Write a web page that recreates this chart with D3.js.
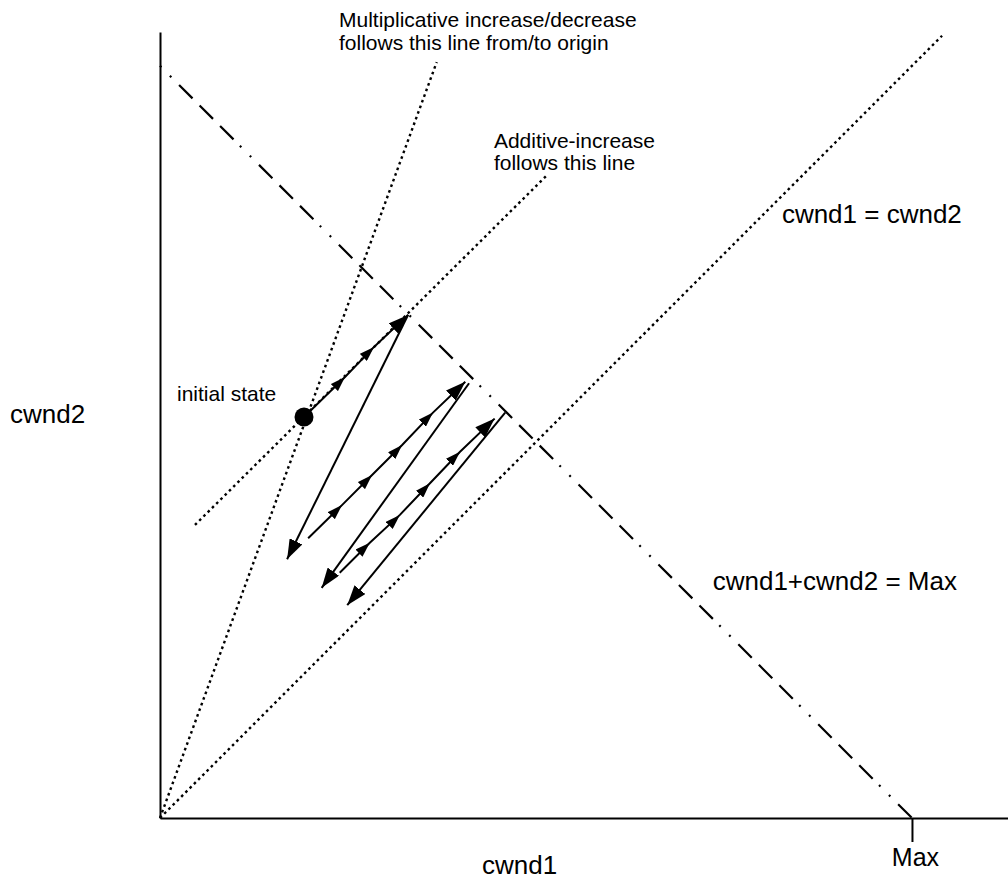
<!DOCTYPE html>
<html>
<head>
<meta charset="utf-8">
<script src="https://cdn.jsdelivr.net/npm/d3@7"></script>
<style>
	body { margin: 0; background: #fff; }
	svg { display: block; }
	text { font-family: "Liberation Sans", Arial, sans-serif; fill: #000; }
	.axis path, .axis line { stroke: #000; stroke-width: 2; }
	.dotted { fill: none; stroke: #000; stroke-width: 2.4; stroke-dasharray: 2.6,3.4; }
	.dashdot { fill: none; stroke: #000; stroke-width: 2.2; stroke-dasharray: 2,12,2,11,19,10,19,10,19,9; }
	.move { fill: none; stroke: #000; stroke-width: 2; }
</style>
</head>
<body>
<div id="chart"></div>
<script>
// everything in units where Max = 100
var xExtent = 112.77;
var yExtent = 104.5;
var maxValue = 100;

// guide lines
var fairLine = [[0, 0], [104, 104]];             // cwnd1 = cwnd2
var multLine = [[0, 0], [36.8, 100.5]];          // towards origin
var addLine = [[4.65, 38.96], [51.5, 85.5]];     // 45 deg through initial state
var maxLine = [[0, 100], [100, 0]];              // cwnd1 + cwnd2 = Max

var initialState = [19.15, 53.32];

// additive increase runs (arrow on every step)
var ramps = [
	[[19.15, 53.32], [24.6, 58.64], [28.46, 62.63], [32.98, 66.89]],
	[[19.7, 37.2], [24.2, 41.6], [28.2, 45.6], [32.2, 49.6], [36.3, 53.9], [40.6, 58.0]],
	[[23.9, 32.6], [27.9, 36.6], [31.9, 40.3], [35.9, 44.5], [39.9, 48.7], [44.5, 53.1]]
];

// multiplicative decrease jumps
var drops = [
	[[33.0, 66.9], [16.9, 34.4]],
	[[41.1, 57.8], [21.5, 30.6]],
	[[45.9, 53.9], [24.9, 28.3]]
];

var labels = [
	{ text: 'Multiplicative increase/decrease', at: [23.8, 105.1], size: 21 },
	{ text: 'follows this line from/to origin', at: [23.8, 102.1], size: 21 },
	{ text: 'Additive-increase', at: [44.4, 89.1], size: 21 },
	{ text: 'follows this line', at: [44.4, 86.2], size: 21 },
	{ text: 'cwnd1 = cwnd2', at: [82.7, 79.1], size: 26 },
	{ text: 'initial state', at: [2.26, 55.45], size: 21 },
	{ text: 'cwnd1+cwnd2 = Max', at: [73.5, 30.3], size: 26 }
];
var xLabel = 'cwnd1';
var yLabel = 'cwnd2';
var maxLabel = 'Max';

var width = 1008, height = 882;

var svg = d3.select('#chart').append('svg')
	.attr('width', width)
	.attr('height', height);

var x = d3.scaleLinear().domain([0, xExtent]).range([160, 1008]);
var y = d3.scaleLinear().domain([0, yExtent]).range([818, 32]);

var line = d3.line()
	.x(function(d) { return x(d[0]); })
	.y(function(d) { return y(d[1]); });

var defs = svg.append('defs');
function marker(id, len, half) {
	defs.append('marker')
		.attr('id', id)
		.attr('viewBox', '0 ' + (-half) + ' ' + len + ' ' + (2 * half))
		.attr('refX', len)
		.attr('refY', 0)
		.attr('markerUnits', 'userSpaceOnUse')
		.attr('markerWidth', len)
		.attr('markerHeight', 2 * half)
		.attr('orient', 'auto')
		.append('path')
			.attr('d', 'M0,' + (-half) + 'L' + len + ',0L0,' + half + 'Z')
			.attr('fill', '#000');
}
marker('step', 15, 5);
marker('head', 20, 7);

// axes
svg.append('g')
	.attr('class', 'axis')
	.attr('transform', 'translate(0,' + y(0) + ')')
	.call(d3.axisBottom(x)
		.tickValues([maxValue])
		.tickFormat(function() { return maxLabel; })
		.tickSizeInner(24)
		.tickSizeOuter(0)
		.tickPadding(6))
	.call(function(g) {
		g.selectAll('text')
			.attr('font-size', 25)
			.attr('dx', 3)
			.style('font-family', '"Liberation Sans", Arial, sans-serif');
	});

svg.append('g')
	.attr('class', 'axis')
	.attr('transform', 'translate(' + x(0) + ',0)')
	.call(d3.axisLeft(y).tickValues([]).tickSizeOuter(0));

// guides
svg.selectAll('.dotted')
	.data([fairLine, multLine, addLine])
	.enter().append('path')
		.attr('class', 'dotted')
		.attr('d', line);

svg.append('path')
	.attr('class', 'dashdot')
	.attr('d', line(maxLine));

// trajectory
svg.selectAll('.ramp')
	.data(ramps)
	.enter().append('path')
		.attr('class', 'move ramp')
		.attr('d', line)
		.attr('marker-mid', 'url(#step)')
		.attr('marker-end', 'url(#head)');

svg.selectAll('.drop')
	.data(drops)
	.enter().append('path')
		.attr('class', 'move drop')
		.attr('d', line)
		.attr('marker-end', 'url(#head)');

svg.append('circle')
	.attr('cx', x(initialState[0]))
	.attr('cy', y(initialState[1]))
	.attr('r', 9.5)
	.attr('fill', '#000');

// texts
svg.selectAll('.note')
	.data(labels)
	.enter().append('text')
		.attr('class', 'note')
		.attr('x', function(d) { return x(d.at[0]); })
		.attr('y', function(d) { return y(d.at[1]); })
		.attr('font-size', function(d) { return d.size; })
		.text(function(d) { return d.text; });

svg.append('text')
	.attr('x', 482)
	.attr('y', 874)
	.attr('font-size', 26)
	.text(xLabel);

svg.append('text')
	.attr('x', 10)
	.attr('y', 423)
	.attr('font-size', 26)
	.text(yLabel);
</script>
</body>
</html>
